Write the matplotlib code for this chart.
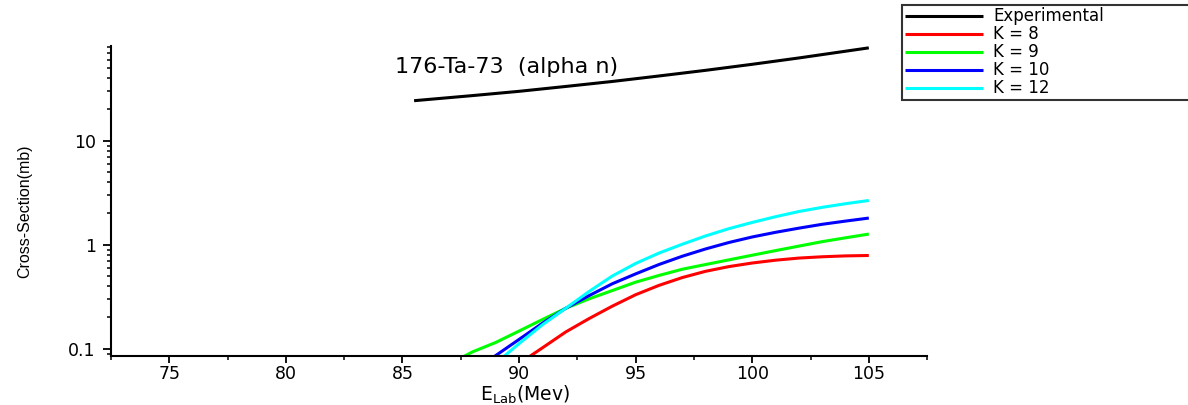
import matplotlib
matplotlib.use("Agg")
import matplotlib.pyplot as plt
from matplotlib.ticker import MultipleLocator, LogLocator, FixedFormatter, FixedLocator, NullFormatter

# experimental excitation function, 176-Ta-73 (alpha n)
exp_energy = [85.5, 88, 90, 92, 94, 96, 98, 100, 102, 105]
exp_sigma = [24.3, 27.2, 29.9, 33.3, 37.2, 42.0, 47.6, 54.4, 62.6, 78.3]

# calculated curves for different K values
k8_energy = [90, 91, 92, 93, 94, 95, 96, 97, 98, 99, 100, 101, 102, 103, 104, 105]
k8_sigma = [0.072, 0.102, 0.145, 0.195, 0.257, 0.331, 0.407, 0.484, 0.556, 0.617,
            0.668, 0.711, 0.745, 0.767, 0.782, 0.789]

k9_energy = [87.5, 88, 89, 90, 91, 92, 93, 94, 95, 96, 97, 98, 99, 100, 101, 102, 103, 104, 105]
k9_sigma = [0.0813, 0.0933, 0.115, 0.148, 0.191, 0.245, 0.302, 0.363, 0.437, 0.507,
            0.582, 0.646, 0.716, 0.794, 0.879, 0.971, 1.072, 1.167, 1.268]

k10_energy = [88.5, 89, 90, 91, 92, 93, 94, 95, 96, 97, 98, 99, 100, 101, 102, 103, 104, 105]
k10_sigma = [0.0724, 0.0861, 0.123, 0.176, 0.245, 0.324, 0.422, 0.525, 0.646, 0.776,
             0.912, 1.052, 1.189, 1.318, 1.445, 1.574, 1.690, 1.807]

k12_energy = [89, 90, 91, 92, 93, 94, 95, 96, 97, 98, 99, 100, 101, 102, 103, 104, 105]
k12_sigma = [0.0724, 0.112, 0.170, 0.245, 0.355, 0.501, 0.661, 0.832, 1.012, 1.216,
             1.429, 1.641, 1.862, 2.089, 2.291, 2.483, 2.667]

y_ticks = [0.1, 1, 10]
y_tick_labels = ["0.1", "1", "10"]

series = [
    ("Experimental", exp_energy, exp_sigma, "black"),
    ("K = 8", k8_energy, k8_sigma, "#ff0000"),
    ("K = 9", k9_energy, k9_sigma, "#00ff00"),
    ("K = 10", k10_energy, k10_sigma, "#0000ff"),
    ("K = 12", k12_energy, k12_sigma, "#00ffff"),
]

plt.rcParams["font.family"] = ["DejaVu Sans"]

fig = plt.figure(figsize=(11.88, 4.05), dpi=100)
ax = fig.add_axes([0.0934, 0.122, 0.687, 0.765])

for label, xs, ys, color in series:
    ax.plot(xs, ys, color=color, lw=2.2, label=label, solid_capstyle="butt")

ax.set_yscale("log")
ax.set_xlim(72.5, 107.5)
ax.set_ylim(0.086, 82)

ax.xaxis.set_major_locator(MultipleLocator(5))
ax.xaxis.set_minor_locator(MultipleLocator(2.5))
ax.yaxis.set_major_locator(FixedLocator(y_ticks))
ax.yaxis.set_major_formatter(FixedFormatter(y_tick_labels))
ax.yaxis.set_minor_locator(LogLocator(base=10, subs=range(2, 10)))
ax.yaxis.set_minor_formatter(NullFormatter())

for side in ["top", "right"]:
    ax.spines[side].set_visible(False)
for side in ["left", "bottom"]:
    ax.spines[side].set_linewidth(1.5)

ax.tick_params(which="major", direction="out", length=5, width=1.3, labelsize=12.5, pad=2)
ax.tick_params(axis="y", which="major", length=6, pad=5)
ax.tick_params(which="minor", direction="out", length=3, width=1.1)

ax.set_xlabel(r"E$_{\mathrm{Lab}}$(Mev)", fontsize=13.5)
ax.xaxis.set_label_coords(0.507, -0.092)
ax.set_ylabel("Cross-Section(mb)", fontsize=11.5, family=["Liberation Sans"])
ax.yaxis.set_label_coords(-0.096, 0.467)

ax.text(84.7, 45, "176-Ta-73  (alpha n)", fontsize=16, ha="left", va="baseline")

leg = ax.legend(loc="upper left", bbox_to_anchor=(0.7593, 0.7605, 0.3, 0.2272),
                bbox_transform=fig.transFigure, mode="expand", frameon=True,
                fancybox=False, edgecolor="black", handlelength=4.7, handletextpad=0.6,
                labelspacing=0.0, borderpad=0.15, borderaxespad=0, fontsize=12)
leg.get_frame().set_linewidth(1.5)

fig.savefig("out.png", dpi=100)
